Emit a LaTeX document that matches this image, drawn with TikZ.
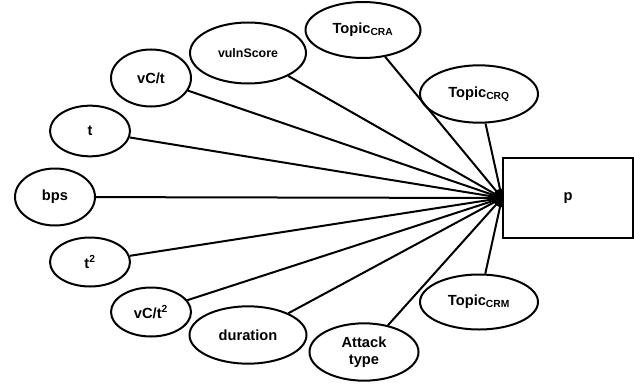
\documentclass[tikz,border=0pt]{standalone}
\usepackage{fontspec}
\setmainfont{Liberation Sans}
\usetikzlibrary{positioning, shapes.geometric, calc}
\tikzset{
    feature/.style={ellipse, draw, line width=1.5pt, inner sep=0pt, minimum width=60pt, minimum height=38pt, font=\fontsize{11}{13}\selectfont\bfseries},
    wide feature/.style={feature, minimum width=87pt, minimum height=43pt},
    output/.style={rectangle, draw, line width=1.5pt, fill=white, minimum width=97.5pt, minimum height=60pt, font=\fontsize{11}{13}\selectfont\bfseries},
    edge/.style={line width=1.5pt}
}

\begin{document}
\begin{tikzpicture}[x=0.75pt, y=-0.75pt]
    \useasboundingbox (0,0) rectangle (634,385);

    % --- Output node ---
    \node (p) [output] at (568,198) {p};
    \coordinate (junc) at (p.west);

    % --- Feature nodes (left) ---
    \node (vuln) [wide feature, minimum height=45.75pt, font=\fontsize{9.3}{11}\selectfont\bfseries] at (248,53) {vulnScore};
    \node (vct) [feature, minimum height=42.75pt] at (151,78) {vC/t};
    \node (t) [feature] at (90,131) {t};
    \node (bps) [feature, minimum height=42.75pt] at (55,197) {bps};
    \node (tsq) [feature, minimum height=36.75pt] at (90,262) {t\textsuperscript{2}};
    \node (vctsq) [feature, minimum height=36.75pt] at (151,312) {vC/t\textsuperscript{2}};
    \node (dur) [wide feature, minimum width=87.75pt] at (248,335) {duration};
    \node (atk) [wide feature, minimum width=81.75pt, align=center] at (364,352) {Attack\\type};

    % --- Topic nodes ---
    \node (cra) [wide feature, minimum width=86.25pt, minimum height=42pt] at (363,30) {Topic\textsubscript{CRA}};
    \node (crq) [wide feature, minimum width=88.5pt] at (479,94) {Topic\textsubscript{CRQ}};
    \node (crm) [wide feature, minimum width=88.5pt, minimum height=41.25pt] at (479,302) {Topic\textsubscript{CRM}};

    % --- Connections ---
    \foreach \f in {vuln, vct, t, bps, tsq, vctsq, dur, atk, cra, crq, crm}
        \draw[edge] (\f) -- (junc);
    \fill ([yshift=-7pt]junc) arc[start angle=-90, end angle=-270, radius=7pt] -- cycle;
\end{tikzpicture}
\end{document}
